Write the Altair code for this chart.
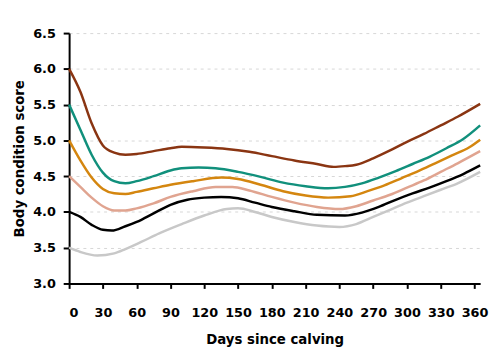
import altair as alt
import pandas as pd

brown_days = [0, 10, 20, 30, 40, 50, 60, 75, 90, 100, 120, 140, 160, 180, 200, 220, 235, 245, 255, 270, 285, 300, 315, 330, 345, 365]
brown_vals = [6.0, 5.68, 5.24, 4.93, 4.83, 4.80, 4.81, 4.85, 4.89, 4.91, 4.90, 4.88, 4.84, 4.78, 4.72, 4.67, 4.63, 4.64, 4.66, 4.75, 4.86, 4.98, 5.09, 5.21, 5.33, 5.51]

teal_days = [0, 10, 20, 30, 40, 50, 60, 75, 90, 100, 115, 130, 150, 170, 190, 210, 230, 245, 260, 275, 290, 305, 320, 335, 350, 365]
teal_vals = [5.5, 5.15, 4.8, 4.55, 4.43, 4.40, 4.43, 4.50, 4.58, 4.61, 4.62, 4.61, 4.56, 4.49, 4.41, 4.36, 4.33, 4.35, 4.40, 4.48, 4.57, 4.67, 4.77, 4.89, 5.02, 5.21]

orange_days = [0, 10, 20, 30, 40, 50, 60, 75, 90, 110, 135, 150, 170, 190, 210, 230, 250, 265, 280, 295, 310, 325, 340, 355, 365]
orange_vals = [5.0, 4.72, 4.48, 4.32, 4.26, 4.25, 4.28, 4.33, 4.38, 4.43, 4.48, 4.46, 4.38, 4.29, 4.23, 4.20, 4.22, 4.29, 4.37, 4.47, 4.57, 4.68, 4.79, 4.90, 5.01]

pink_days = [0, 10, 20, 30, 40, 50, 60, 75, 90, 110, 130, 145, 160, 180, 200, 220, 240, 255, 270, 285, 300, 315, 330, 345, 365]
pink_vals = [4.5, 4.35, 4.2, 4.08, 4.02, 4.02, 4.05, 4.12, 4.21, 4.29, 4.35, 4.35, 4.30, 4.21, 4.13, 4.07, 4.04, 4.08, 4.16, 4.24, 4.34, 4.44, 4.56, 4.68, 4.85]

black_days = [0, 10, 20, 30, 38, 50, 60, 75, 90, 105, 120, 135, 150, 165, 180, 200, 220, 245, 260, 275, 290, 305, 320, 335, 350, 365]
black_vals = [4.0, 3.93, 3.82, 3.75, 3.74, 3.80, 3.86, 3.98, 4.10, 4.17, 4.20, 4.21, 4.19, 4.13, 4.07, 4.01, 3.96, 3.95, 3.99, 4.07, 4.17, 4.26, 4.34, 4.43, 4.53, 4.65]

grey_days = [0, 10, 25, 40, 50, 64, 80, 100, 120, 140, 150, 165, 180, 200, 220, 240, 255, 270, 285, 300, 315, 330, 345, 365]
grey_vals = [3.5, 3.44, 3.39, 3.42, 3.48, 3.58, 3.70, 3.83, 3.95, 4.04, 4.05, 4.00, 3.93, 3.86, 3.81, 3.79, 3.83, 3.93, 4.03, 4.13, 4.22, 4.31, 4.40, 4.56]

series_names = ["6.0", "5.5", "5.0", "4.5", "4.0", "3.5"]
series_colors = ["#8a3512", "#11907c", "#d4860f", "#e0a490", "#000000", "#c8c8c8"]
x_ticks = [0, 30, 60, 90, 120, 150, 180, 210, 240, 270, 300, 330, 360]
y_ticks = [3.0, 3.5, 4.0, 4.5, 5.0, 5.5, 6.0, 6.5]

rows = []
for name, d, v in zip(series_names,
                      [brown_days, teal_days, orange_days, pink_days, black_days, grey_days],
                      [brown_vals, teal_vals, orange_vals, pink_vals, black_vals, grey_vals]):
    for di, vi in zip(d, v):
        rows.append({"series": name, "day": di, "bcs": vi})
df = pd.DataFrame(rows)

FONT = "DejaVu Sans"

chart = alt.Chart(df).mark_line(interpolate="monotone", strokeWidth=2.5).encode(
    x=alt.X("day:Q", scale=alt.Scale(domain=[0, 365], nice=False),
            axis=alt.Axis(values=x_ticks, title="Days since calving", grid=False,
                          domainColor="black", domainWidth=2, tickColor="black", tickWidth=2,
                          tickSize=5, labelPadding=19, titlePadding=13,
                          labelFontSize=13, labelFontWeight="bold", labelFont=FONT,
                          labelColor="black", titleFontSize=13.5, titleFontWeight="bold",
                          titleFont=FONT, titleColor="black")),
    y=alt.Y("bcs:Q", scale=alt.Scale(domain=[3.0, 6.5], nice=False, zero=False),
            axis=alt.Axis(values=y_ticks, format=".1f", title="Body condition score",
                          grid=True, gridDash=[3, 4], gridColor="#d6d6d6", gridWidth=1,
                          domainColor="black", domainWidth=2, tickColor="black", tickWidth=2,
                          tickSize=6, labelPadding=8, titlePadding=6,
                          labelFontSize=13, labelFontWeight="bold", labelFont=FONT,
                          labelColor="black", titleFontSize=13.5, titleFontWeight="bold",
                          titleFont=FONT, titleColor="black")),
    color=alt.Color("series:N", scale=alt.Scale(domain=series_names, range=series_colors), legend=None),
).properties(
    width=417, height=254,
    autosize=alt.AutoSizeParams(type="none"),
    padding={"left": 62, "top": 23, "right": 12, "bottom": 62},
).configure_view(stroke=None)

chart.save("out.html", embed_options={"renderer": "svg", "actions": False})
